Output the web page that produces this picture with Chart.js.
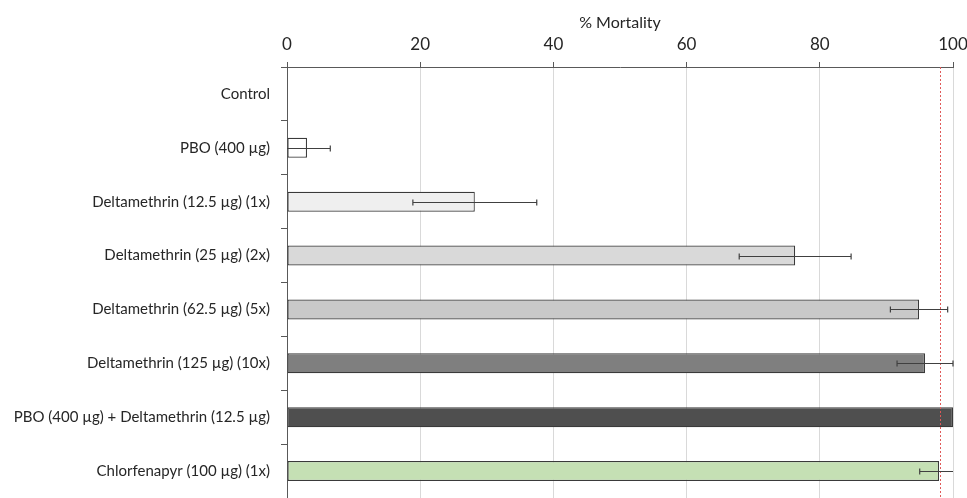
<!DOCTYPE html>
<html>
<head>
<meta charset="utf-8">
<script src="https://cdn.jsdelivr.net/npm/chart.js@4.4.1/dist/chart.umd.min.js"></script>
<style>
  html, body { margin: 0; padding: 0; background: #ffffff; }
  #wrap { width: 967px; height: 498px; position: relative; }
</style>
</head>
<body>
<div id="wrap"><canvas id="chart"></canvas></div>
<script>
// Treatments (top to bottom)
const treatments = [
  'Control',
  'PBO (400 µg)',
  'Deltamethrin (12.5 µg) (1x)',
  'Deltamethrin (25 µg) (2x)',
  'Deltamethrin (62.5 µg) (5x)',
  'Deltamethrin (125 µg) (10x)',
  'PBO (400 µg) + Deltamethrin (12.5 µg)',
  'Chlorfenapyr (100 µg) (1x)'
];
// Mean % mortality per treatment
const mortality = [0, 3.0, 28.2, 76.3, 94.9, 95.8, 100, 97.9];
// Half-width of the error bar per treatment
const errors = [0, 3.5, 9.3, 8.4, 4.3, 4.2, 0, 2.9];
const barColors = ['#ffffff', '#ffffff', '#efefef', '#d9d9d9', '#c9c9c9', '#7f7f7f', '#4f4f4f', '#c5e0b4'];
const xTicks = [0, 20, 40, 60, 80, 100];
// Mortality threshold marked by the dashed red line
const threshold = 98;

const errorBars = {
  id: 'errorBars',
  afterDatasetsDraw(chart) {
    const { ctx, scales: { x } } = chart;
    const meta = chart.getDatasetMeta(0);
    ctx.save();
    ctx.strokeStyle = '#404040';
    ctx.lineWidth = 1.2;
    mortality.forEach((v, i) => {
      const e = errors[i];
      if (!e) return;
      const lo = v - e, hi = v + e;
      const x0 = x.getPixelForValue(Math.max(lo, x.min));
      const x1 = x.getPixelForValue(Math.min(hi, x.max));
      const yc = Math.round(meta.data[i].y) + 0.5;
      const cap = 3;
      ctx.beginPath();
      ctx.moveTo(x0, yc); ctx.lineTo(x1, yc);
      if (lo >= x.min) { ctx.moveTo(x0, yc - cap); ctx.lineTo(x0, yc + cap); }
      if (hi <= x.max) { ctx.moveTo(x1, yc - cap); ctx.lineTo(x1, yc + cap); }
      ctx.stroke();
    });
    ctx.restore();
  }
};

const thresholdLine = {
  id: 'thresholdLine',
  afterDatasetsDraw(chart) {
    const { ctx, scales: { x }, chartArea } = chart;
    const px = Math.round(x.getPixelForValue(threshold)) + 0.5;
    ctx.save();
    ctx.strokeStyle = '#e05a5a';
    ctx.lineWidth = 1;
    ctx.setLineDash([2, 2]);
    ctx.beginPath();
    ctx.moveTo(px, chartArea.top);
    ctx.lineTo(px, chartArea.bottom);
    ctx.stroke();
    ctx.restore();
  }
};

new Chart(document.getElementById('chart'), {
  type: 'bar',
  data: {
    labels: treatments,
    datasets: [{
      data: mortality,
      backgroundColor: barColors,
      borderColor: '#3a3a3a',
      borderWidth: 1.2,
      borderSkipped: false,
      barPercentage: 0.37,
      categoryPercentage: 1
    }]
  },
  options: {
    indexAxis: 'y',
    responsive: true,
    maintainAspectRatio: false,
    animation: false,
    layout: { padding: 0 },
    plugins: {
      legend: { display: false },
      tooltip: { enabled: false }
    },
    scales: {
      x: {
        position: 'top',
        min: 0,
        max: 100,
        afterBuildTicks(scale) { scale.ticks = xTicks.map(v => ({ value: v })); },
        afterFit(scale) {
          scale.height = 67;
          scale.paddingLeft = 0;
          scale.paddingRight = 14;
        },
        title: {
          display: true,
          text: '% Mortality',
          color: '#262626',
          font: { family: 'Lato', size: 16 },
          padding: { top: 13, bottom: 0 }
        },
        ticks: {
          color: '#262626',
          font: { family: 'Lato', size: 17 },
          padding: 7,
          maxRotation: 0
        },
        grid: {
          color: '#d9d9d9',
          lineWidth: 1,
          tickColor: '#595959',
          tickLength: 5
        },
        border: { color: '#595959', width: 1 }
      },
      y: {
        afterFit(scale) {
          scale.width = 287;
          scale.paddingTop = 0;
          scale.paddingBottom = 0;
        },
        ticks: {
          color: '#262626',
          font: { family: 'Lato', size: 15 },
          padding: 11,
          autoSkip: false
        },
        grid: {
          offset: true,
          drawOnChartArea: false,
          drawTicks: true,
          tickColor: '#595959',
          tickLength: 6
        },
        border: { color: '#595959', width: 1 }
      }
    }
  },
  plugins: [thresholdLine, errorBars]
});
</script>
</body>
</html>
